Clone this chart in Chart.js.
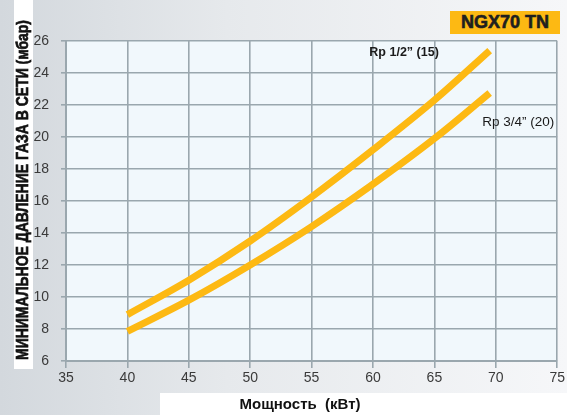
<!DOCTYPE html>
<html>
<head>
<meta charset="utf-8">
<script src="https://cdn.jsdelivr.net/npm/chart.js@4.4.1/dist/chart.umd.min.js"></script>
<style>
  html, body { margin: 0; padding: 0; }
  body { width: 567px; height: 415px; position: relative; overflow: hidden;
         background: linear-gradient(90deg, #d3d8dd 0%, #e6e9ec 40%, #f6f7f9 100%); }
  #wrap { position: absolute; left: 0; top: 0; width: 567px; height: 415px; }
  #badge { position: absolute; left: 450px; top: 11px; width: 110px; height: 23px;
           background: #fdb913; color: #1f1f1f; font: bold 18px "Liberation Sans", Arial, sans-serif;
           text-align: center; line-height: 23px; -webkit-text-stroke: 0.6px #1f1f1f; }
</style>
</head>
<body>
<div id="wrap"><canvas id="chart" width="567" height="415"></canvas></div>
<div id="badge">NGX70 TN</div>
<script>
const powerKw = [40, 45, 50, 55, 60, 65, 69.5];
const rpHalf = [8.9, 11.05, 13.5, 16.25, 19.2, 22.3, 25.4];
const rpThreeQuarter = [7.85, 9.8, 12.0, 14.4, 17.05, 19.9, 22.75];
const seriesNames = ['Rp 1/2\u201d (15)', 'Rp 3/4\u201d (20)'];
const yTitle = 'МИНИМАЛЬНОЕ ДАВЛЕНИЕ ГАЗА В СЕТИ (мбар)';
const xTitle = 'Мощность  (кВт)';

const lineColor = '#fdb913';
const gridColor = '#9aa7ae';
const fontFamily = '"Liberation Sans", Arial, sans-serif';

const toPoints = (ys) => powerKw.map((x, i) => ({ x, y: ys[i] }));

const decor = {
    id: 'decor',
    beforeDraw(chart) {
        const { ctx, chartArea: a } = chart;
        ctx.save();
        ctx.fillStyle = '#f1f8fc';
        ctx.fillRect(a.left, a.top, a.right - a.left, a.bottom - a.top);
        // white strips behind the axis titles
        ctx.fillStyle = '#ffffff';
        ctx.fillRect(14, 0, 19, 369);
        ctx.fillRect(160, 393, 407, 22);
        ctx.restore();
    },
    afterDraw(chart) {
        const { ctx, scales } = chart;
        ctx.save();
        ctx.fillStyle = '#111';
        ctx.strokeStyle = '#111';
        ctx.lineWidth = 0.7;
        ctx.font = 'bold 17px ' + fontFamily;
        ctx.textAlign = 'center';
        ctx.textBaseline = 'middle';
        const w = ctx.measureText(yTitle).width;
        ctx.translate(22.5, 190);
        ctx.rotate(-Math.PI / 2);
        ctx.scale(340 / w, 1);
        ctx.fillText(yTitle, 0, 1);
        ctx.strokeText(yTitle, 0, 1);
        ctx.restore();

        ctx.save();
        ctx.fillStyle = '#111';
        ctx.font = 'bold 15px ' + fontFamily;
        ctx.textAlign = 'center';
        ctx.textBaseline = 'middle';
        ctx.fillText(xTitle, 300, 405);

        ctx.textAlign = 'left';
        ctx.fillStyle = '#1a1a1a';
        ctx.font = 'bold 12.5px ' + fontFamily;
        ctx.fillText(seriesNames[0], scales.x.getPixelForValue(59.7), scales.y.getPixelForValue(25.3));
        ctx.font = '13.5px ' + fontFamily;
        ctx.fillText(seriesNames[1], scales.x.getPixelForValue(68.9), scales.y.getPixelForValue(20.95));
        ctx.restore();
    },
};

new Chart(document.getElementById('chart').getContext('2d'), {
    type: 'line',
    data: {
        datasets: [
            {
                label: seriesNames[0],
                data: toPoints(rpHalf),
                borderColor: lineColor,
                borderWidth: 7,
                borderCapStyle: 'butt',
                pointRadius: 0,
                tension: 0.35,
                fill: false,
            },
            {
                label: seriesNames[1],
                data: toPoints(rpThreeQuarter),
                borderColor: lineColor,
                borderWidth: 7,
                borderCapStyle: 'butt',
                pointRadius: 0,
                tension: 0.35,
                fill: false,
            },
        ],
    },
    options: {
        responsive: false,
        animation: false,
        devicePixelRatio: 1,
        layout: { padding: { top: 41, right: 7, left: 0, bottom: 0 } },
        plugins: {
            legend: { display: false },
            tooltip: { enabled: false },
        },
        scales: {
            x: {
                type: 'linear',
                min: 35,
                max: 75,
                ticks: { stepSize: 5, color: '#3a3a3a', padding: 2, font: { family: fontFamily, size: 14 } },
                grid: { color: gridColor, lineWidth: 1.6, tickLength: 7, drawOnChartArea: true },
                border: { color: gridColor, width: 2 },
                afterFit(scale) { scale.height = 54; },
            },
            y: {
                min: 6,
                max: 26,
                ticks: { stepSize: 2, color: '#3a3a3a', padding: 12, font: { family: fontFamily, size: 14 } },
                grid: { color: gridColor, lineWidth: 1.6, tickLength: 5 },
                border: { color: gridColor, width: 2 },
                afterFit(scale) { scale.width = 66; },
            },
        },
    },
    plugins: [decor],
});
</script>
</body>
</html>
